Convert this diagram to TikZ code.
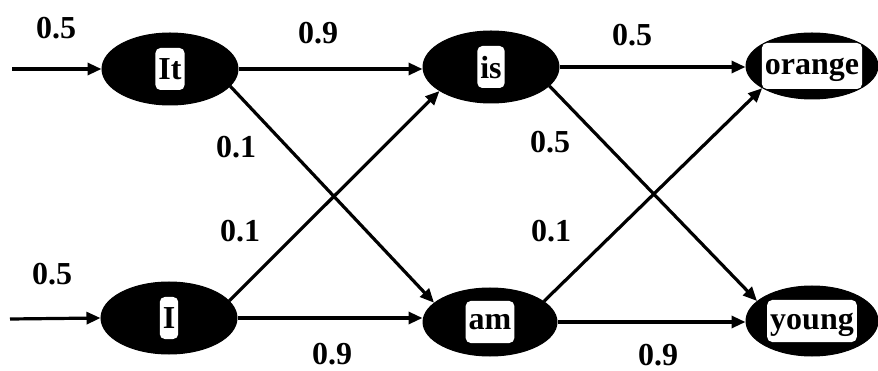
\documentclass[tikz,border=0pt]{standalone}
\usepackage{fontspec}
\setmainfont{Liberation Serif}
\usetikzlibrary{shapes.geometric,arrows.meta}
\begin{document}
\begin{tikzpicture}[x=1pt,y=-1pt,
  font=\fontsize{32}{34}\selectfont\bfseries,
  statenode/.style={ellipse,fill=black,draw=black,line width=1pt,inner sep=0pt,minimum width=#1,minimum height=72},
  statenode/.default=136,
  wordbox/.style={fill=white,rounded corners=5pt,inner xsep=3pt,inner ysep=0pt,minimum height=42,text depth=0pt},
  edge/.style={line width=3.2pt,-{Triangle[length=14pt,width=12pt]}},
  prob/.style={inner sep=0pt}]
\useasboundingbox (0,0) rectangle (878,371);
% states
\node[statenode] (it) at (170,69) {};
\node[statenode] (is) at (491,67) {};
\node[statenode=132,minimum height=66] (orange) at (812,66) {};
\node[statenode] (i) at (169,318) {};
\node[statenode=134,minimum height=68] (am) at (490,322) {};
\node[statenode=132,minimum height=70] (young) at (812,321) {};
% start points
\coordinate (s1) at (12,69);
\coordinate (s2) at (10,319);
% connectors
\draw[edge] (s1) -- (it.west);
\draw[edge] (s2) -- (i.west);
\draw[edge] (it.east) -- (is.west |- it.east);
\draw[edge] (it.-16) -- (am.161);
\draw[edge] (i.16) -- (is.-155);
\draw[edge] (i.east) -- (am.west |- i.east);
\draw[edge] (is.east) -- (orange.west |- is.east);
\draw[edge] (is.-18) -- (young.160);
\draw[edge] (am.21) -- (orange.-156);
\draw[edge] (am.east) -- (young.west |- am.east);
% word boxes
\node[wordbox] (itw) at (it) {It};
\node[wordbox] (isw) at (is) {is};
\node[wordbox,minimum height=46] (orangew) at (orange) {orange};
\node[wordbox] (iw) at (i) {I};
\node[wordbox] (amw) at (am) {am};
\node[wordbox] (youngw) at (young) {young};
% probabilities
\node[prob] (p1) at (56,28) {0.5};
\node[prob] (p2) at (52,274) {0.5};
\node[prob] (p3) at (318,33) {0.9};
\node[prob] (p4) at (632,35) {0.5};
\node[prob] (p5) at (236,147) {0.1};
\node[prob] (p6) at (240,231) {0.1};
\node[prob] (p7) at (550,142) {0.5};
\node[prob] (p8) at (551,231) {0.1};
\node[prob] (p9) at (332,354) {0.9};
\node[prob] (p10) at (658,355) {0.9};
\end{tikzpicture}
\end{document}
